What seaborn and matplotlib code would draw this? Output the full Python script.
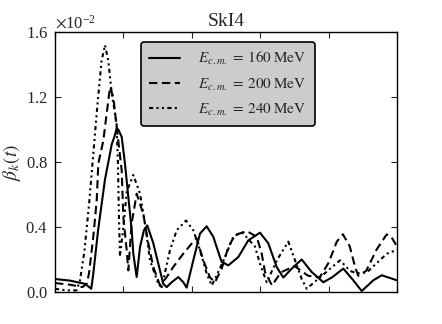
"""Beta_k(t) for SkI4 at three centre-of-mass energies."""
import numpy as np
import pandas as pd
import matplotlib
matplotlib.use('Agg')
import matplotlib.pyplot as plt
import seaborn as sns

# time axis (arbitrary units, ticks unlabelled) and beta_k in units of 1e-2
t_160 = [0.0, 0.22, 0.44, 0.53, 0.56, 0.63, 0.73, 0.83, 0.88, 0.90, 0.925, 0.975, 1.023, 1.072,
         1.121, 1.145, 1.194, 1.243, 1.30, 1.349, 1.437, 1.51, 1.583, 1.633, 1.706, 1.803, 1.876,
         1.925, 2.022, 2.12, 2.218, 2.314, 2.412, 2.437, 2.534, 2.68, 2.826, 2.997, 3.118, 3.241,
         3.338, 3.461, 3.607, 3.753, 3.923, 4.05, 4.215, 4.361, 4.484, 4.654, 4.776, 5.0]
b_160 = [0.08, 0.07, 0.05, 0.02, 0.113, 0.38, 0.69, 0.91, 0.97, 1.005, 1.0, 0.955, 0.79, 0.585,
         0.38, 0.236, 0.092, 0.277, 0.38, 0.41, 0.30, 0.175, 0.05, 0.03, 0.06, 0.092, 0.06,
         0.027, 0.195, 0.36, 0.404, 0.34, 0.215, 0.185, 0.164, 0.215, 0.318, 0.365, 0.30, 0.154,
         0.089, 0.144, 0.20, 0.123, 0.06, 0.09, 0.144, 0.072, 0.006, 0.072, 0.103, 0.072]

t_200 = [0.0, 0.22, 0.34, 0.40, 0.463, 0.497, 0.56, 0.61, 0.633, 0.706, 0.756, 0.804, 0.852,
         0.902, 0.975, 0.999, 1.048, 1.072, 1.12, 1.194, 1.291, 1.364, 1.437, 1.535, 1.63, 1.729,
         1.876, 2.022, 2.072, 2.168, 2.266, 2.339, 2.437, 2.534, 2.632, 2.803, 2.949, 3.022, 3.07,
         3.173, 3.30, 3.50, 3.70, 3.87, 4.0, 4.12, 4.21, 4.31, 4.39, 4.434, 4.55, 4.70, 4.85,
         4.93, 5.0]
b_200 = [0.055, 0.045, 0.035, 0.03, 0.05, 0.113, 0.34, 0.565, 0.79, 0.93, 1.10, 1.26, 1.20,
         1.015, 0.75, 0.46, 0.257, 0.133, 0.42, 0.605, 0.48, 0.30, 0.154, 0.04, 0.09, 0.154,
         0.236, 0.31, 0.33, 0.195, 0.09, 0.06, 0.144, 0.277, 0.35, 0.375, 0.34, 0.236, 0.123,
         0.04, 0.12, 0.16, 0.10, 0.09, 0.18, 0.31, 0.355, 0.28, 0.15, 0.10, 0.13, 0.26, 0.355,
         0.33, 0.28]

t_240 = [0.0, 0.171, 0.317, 0.365, 0.43, 0.50, 0.56, 0.62, 0.68, 0.731, 0.78, 0.83, 0.90, 0.92,
         0.935, 0.95, 1.0, 1.05, 1.145, 1.243, 1.316, 1.389, 1.51, 1.56, 1.681, 1.779, 1.915,
         2.022, 2.12, 2.218, 2.291, 2.339, 2.485, 2.607, 2.73, 2.924, 3.0, 3.095, 3.25, 3.411,
         3.509, 3.607, 3.68, 3.874, 4.167, 4.313, 4.411, 4.557, 4.849, 5.0]
b_240 = [0.02, 0.01, 0.01, 0.07, 0.25, 0.55, 0.85, 1.15, 1.42, 1.52, 1.42, 1.22, 1.04, 0.79,
         0.46, 0.22, 0.40, 0.62, 0.72, 0.605, 0.42, 0.195, 0.05, 0.03, 0.257, 0.38, 0.44,
         0.38, 0.257, 0.113, 0.04, 0.08, 0.215, 0.34, 0.37, 0.28, 0.17, 0.06, 0.20, 0.31,
         0.195, 0.08, 0.02, 0.09, 0.195, 0.13, 0.115, 0.12, 0.235, 0.26]

labels = [r'$E_{c.m.}\,=\,160\;\mathrm{MeV}$',
          r'$E_{c.m.}\,=\,200\;\mathrm{MeV}$',
          r'$E_{c.m.}\,=\,240\;\mathrm{MeV}$']
yticks = [0.0, 0.004, 0.008, 0.012, 0.016]
xticks = [0, 1, 2, 3, 4, 5]

sns.set_style('ticks')
plt.rcParams['font.family'] = ['Liberation Serif', 'DejaVu Serif']
plt.rcParams['mathtext.fontset'] = 'stix'
plt.rcParams['xtick.direction'] = 'in'
plt.rcParams['ytick.direction'] = 'in'

fig = plt.figure(figsize=(4.42, 3.24), dpi=100)
ax = fig.add_axes([55 / 442, 1 - 292 / 324, 342 / 442, 260 / 324])

styles = ['-', (0, (4, 2.2)), (0, (2.0, 1.6, 1, 1.6, 1, 1.6))]
series = [(t_160, b_160), (t_200, b_200), (t_240, b_240)]
for (t, b), lab, ls in zip(series, labels, styles):
    sns.lineplot(x=t, y=np.array(b) * 1e-2, ax=ax, color='k', lw=1.5,
                 linestyle=ls, label=lab, estimator=None, sort=False)

ax.set_xlim(0, 5)
ax.set_ylim(0, 0.016)
ax.set_xticks(xticks)
ax.set_xticklabels([])
ax.set_yticks(yticks)
ax.ticklabel_format(axis='y', style='sci', scilimits=(0, 0), useMathText=True)
ax.tick_params(axis='both', which='both', top=True, right=True, length=4, width=0.8,
               labelsize=12, pad=5)
ax.yaxis.get_offset_text().set_fontsize(12)
for s in ax.spines.values():
    s.set_linewidth(1.0)
    s.set_color('k')

ax.set_title('SkI4', fontsize=14, pad=4)
ax.set_ylabel(r'$\beta_k(t)$', fontsize=14, labelpad=2)
ax.set_xlabel('')

leg = ax.legend(loc='upper left', bbox_to_anchor=(0.251, 0.962), borderaxespad=0,
                fontsize=11, fancybox=True, framealpha=1, handlelength=2.0,
                handletextpad=1.2, labelspacing=0.6, borderpad=0.55)
leg.get_frame().set_facecolor('0.8')
leg.get_frame().set_edgecolor('k')
leg.get_frame().set_linewidth(1.2)

fig.savefig('out.png', dpi=100)
